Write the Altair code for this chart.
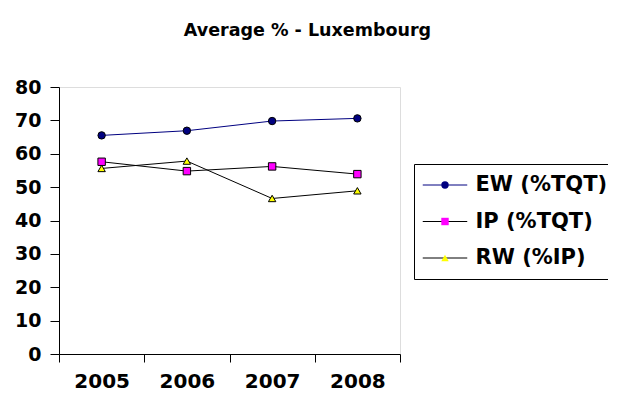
import altair as alt
import pandas as pd

years = [2005, 2006, 2007, 2008]
series = ["EW (%TQT)", "IP (%TQT)", "RW (%IP)"]
ew = [65.5, 66.9, 69.8, 70.6]
ip = [57.6, 54.8, 56.2, 53.9]
rw = [55.6, 57.8, 46.6, 48.9]

line_colors = ["#000080", "#000000", "#000000"]
fill_colors = ["#000080", "#FF00FF", "#FFFF00"]
shapes = ["circle", "square", "triangle-up"]

# marker legend uses a separate (hidden-label) domain so it is not merged with the line legend
series_m = [s + " " for s in series]

rows = []
for name, mname, vals in zip(series, series_m, [ew, ip, rw]):
    for yy, v in zip(years, vals):
        rows.append({"year": yy, "value": v, "series": name, "series_m": mname})
df = pd.DataFrame(rows)

FONT = "DejaVu Sans"

x = alt.X(
    "year:O",
    scale=alt.Scale(type="band", paddingInner=0, paddingOuter=0),
    axis=alt.Axis(
        title=None,
        labelAngle=0,
        tickBand="extent",
        grid=False,
        tickSize=8,
        labelPadding=9,
        labelFont=FONT,
        labelFontWeight="bold",
        labelFontSize=20,
        labelColor="black",
        domainColor="black",
        tickColor="black",
    ),
)
y = alt.Y(
    "value:Q",
    scale=alt.Scale(domain=[0, 80], nice=False),
    axis=alt.Axis(
        title=None,
        values=list(range(0, 81, 10)),
        grid=False,
        tickSize=9,
        labelPadding=9,
        labelFont=FONT,
        labelFontWeight="bold",
        labelFontSize=19,
        labelColor="black",
        domainColor="black",
        tickColor="black",
    ),
)

common_leg = dict(
    orient="none",
    legendX=355,
    legendY=77,
    title=None,
    padding=10.5,
    symbolSize=55,
    symbolOffset=10,
    rowPadding=14.5,
    labelFont=FONT,
    labelFontWeight="bold",
    labelFontSize=21,
    labelColor="black",
)

lines = alt.Chart(df).mark_line(strokeWidth=1).encode(
    x=x,
    y=y,
    stroke=alt.Stroke(
        "series:N",
        scale=alt.Scale(domain=series, range=line_colors),
        legend=alt.Legend(
            symbolType="M-6,0H6",
            symbolStrokeWidth=1,
            labelOffset=20,
            **common_leg,
        ),
    ),
)

pt_leg = alt.Legend(
    symbolStrokeColor="black",
    symbolStrokeWidth=1,
    strokeColor="black",
    labelOpacity=0,
    labelOffset=16,
    **common_leg,
)
points = alt.Chart(df).mark_point(
    filled=False, opacity=1, fillOpacity=1, stroke="black", strokeWidth=1, size=55
).encode(
    x=x,
    y=y,
    shape=alt.Shape("series_m:N", scale=alt.Scale(domain=series_m, range=shapes), legend=pt_leg),
    fill=alt.Fill("series_m:N", scale=alt.Scale(domain=series_m, range=fill_colors), legend=pt_leg),
)

chart = (
    alt.layer(lines, points)
    .properties(
        width=341,
        height=267,
        autosize=alt.AutoSizeParams(type="none"),
        padding={"left": 51, "top": 79, "right": 208, "bottom": 39},
        title=alt.TitleParams(
            "Average % - Luxembourg",
            anchor="middle",
            frame="group",
            dx=78,
            offset=25,
            baseline="alphabetic",
            font=FONT,
            fontWeight="bold",
            fontSize=17.5,
            color="black",
        ),
    )
    .configure_view(stroke="#808080", strokeWidth=1)
    .configure(background="white")
)

chart.save("out.html", embed_options={"renderer": "svg", "actions": False})
